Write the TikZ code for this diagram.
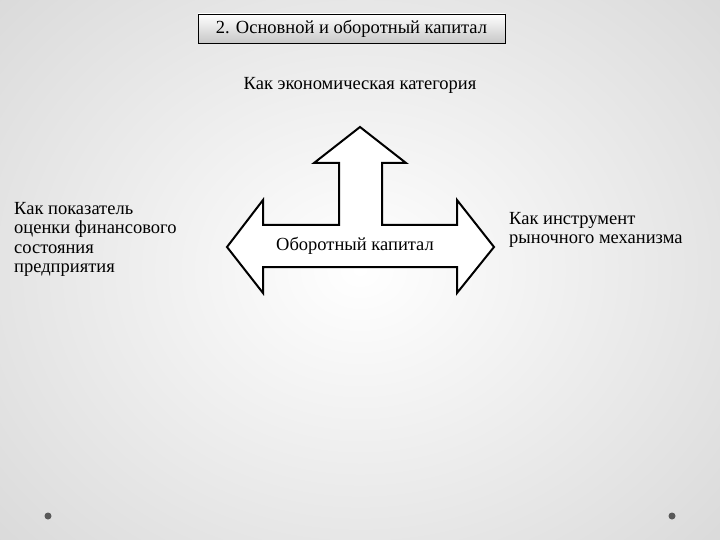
\documentclass[tikz,border=0pt]{standalone}
\usepackage{fontspec}
\setmainfont{Liberation Serif}
\begin{document}
\begin{tikzpicture}[x=1pt,y=-1pt,
  txt/.style={font=\fontsize{18.5}{19.5}\selectfont, inner sep=0pt},
  lbl/.style={txt, align=left, anchor=north west},
  dotc/.style={circle, fill=black!65, inner sep=0pt, minimum size=7pt}]
\useasboundingbox (0,0) rectangle (720,540);
\shade[inner color=white, outer color=black!16] (-180,-180) rectangle (900,720);
\node[dotc] (d1) at (48,516) {};
\node[dotc] (d2) at (672,516) {};
% title
\shade[top color=white, bottom color=black!22, draw=black, line width=0.8pt] (198,14) rectangle (505,43);
\node[txt] (title) at (351.5,29) {2. Основной и оборотный капитал};
\node[txt] (cat) at (360,85) {Как экономическая категория};
% arrow
\draw[line width=2pt, line join=miter, fill=white]
 (227,247) -- (263,200) -- (263,225) -- (339,225) -- (339,163) -- (314,163) -- (360,127)
 -- (406,163) -- (382,163) -- (382,225) -- (457,225) -- (457,200) -- (494,247)
 -- (457,293) -- (457,267) -- (263,267) -- (263,293) -- cycle;
\node[txt] (ob) at (355,246) {Оборотный капитал};
\node[lbl] (left) at (14,202) {Как показатель\\оценки финансового\\состояния\\предприятия};
\node[lbl] (right) at (509,212) {Как инструмент\\рыночного механизма};
\end{tikzpicture}
\end{document}
